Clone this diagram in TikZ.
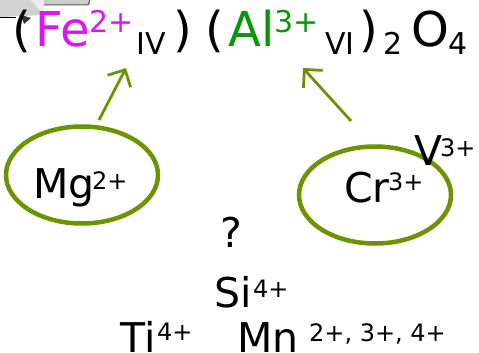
\documentclass[tikz,border=0pt]{standalone}
\usepackage{fontspec}
\setmainfont{DejaVu Sans}
\usetikzlibrary{arrows.meta,shapes.geometric}
\definecolor{olive}{RGB}{108,148,0}
\definecolor{femag}{RGB}{222,20,245}
\definecolor{algreen}{RGB}{10,150,10}
\tikzset{
  big/.style={inner sep=0pt, anchor=base west, font=\fontsize{48}{48}\selectfont},
  mid/.style={inner sep=0pt, anchor=base west, font=\fontsize{41}{41}\selectfont},
  sm/.style={inner sep=0pt, anchor=base west, font=\fontsize{30}{30}\selectfont},
  tiny/.style={inner sep=0pt, anchor=base west, font=\fontsize{24}{24}\selectfont},
  ring/.style={draw=olive, line width=4.5pt, ellipse, minimum width=152pt, minimum height=97pt},
  link/.style={draw=olive, line width=2.8pt, -{Straight Barb[length=13pt,width=26pt,line width=2.8pt]}}
}
\begin{document}
\begin{tikzpicture}[x=1pt,y=-1pt]
\useasboundingbox (0,0) rectangle (479,353);
% grey fragment top-left
\fill[gray!35] (0,0) -- (31,0) -- (44,15) -- (0,17) -- cycle;
\fill[gray!15] (31,0) -- (44,0) -- (44,15) -- cycle;
\fill[gray!40] (44,0) rectangle (90,5);
\draw[gray!70!black, line width=1pt] (44,5) -- (88,5) -- (90,0);
\draw[black, line width=1pt] (0,17.5) -- (16,17.5);
\fill[black!80] (21,15) -- (31,18) -- (24,24) -- cycle;
% formula
\node[big] (p1) at (12,47) {(};
\node[big, text=femag] (fe) at (35,47) {Fe};
\node[sm, text=femag] (fes) at (89,33) {2+};
\node[sm] (iv) at (136,55) {IV};
\node[big] (p2) at (173,47) {)};
\node[big] (p3) at (205,47) {(};
\node[big, text=algreen] (al) at (228,47) {Al};
\node[sm, text=algreen] (als) at (274,33) {3+};
\node[sm] (vi) at (325,55) {VI};
\node[big] (p4) at (359,47) {)};
\node[sm] (two) at (383,55) {2};
\node[big] (o) at (411,47) {O};
\node[sm] (four) at (448,55) {4};
% ellipses
\node[ring] (mgring) at (82,175) {};
\node[ring] (crring) at (375,195) {};
\node[mid] (mg) at (33,198) {Mg};
\node[tiny] (mgs) at (92,189) {2+};
\node[mid] (cr) at (344,202) {Cr};
\node[tiny] (crs) at (388,190) {3+};
\node[mid] (v) at (414,165) {V};
\node[tiny] (vs) at (440,156) {3+};
% others
\node[mid] (q) at (220,247) {?};
\node[mid] (si) at (214,307) {Si};
\node[tiny] (sis) at (253,297) {4+};
\node[mid] (ti) at (120,352) {Ti};
\node[tiny] (tis) at (157,340) {4+};
\node[mid] (mn) at (237,352) {Mn};
\node[tiny] (mns) at (309,341) {2+, 3+, 4+};
% arrows
\coordinate (a1s) at (99,120);
\coordinate (a1e) at (126,68);
\coordinate (a2s) at (351,121);
\coordinate (a2e) at (303,68);
\draw[link] (a1s) -- (a1e);
\draw[link] (a2s) -- (a2e);
\end{tikzpicture}
\end{document}
